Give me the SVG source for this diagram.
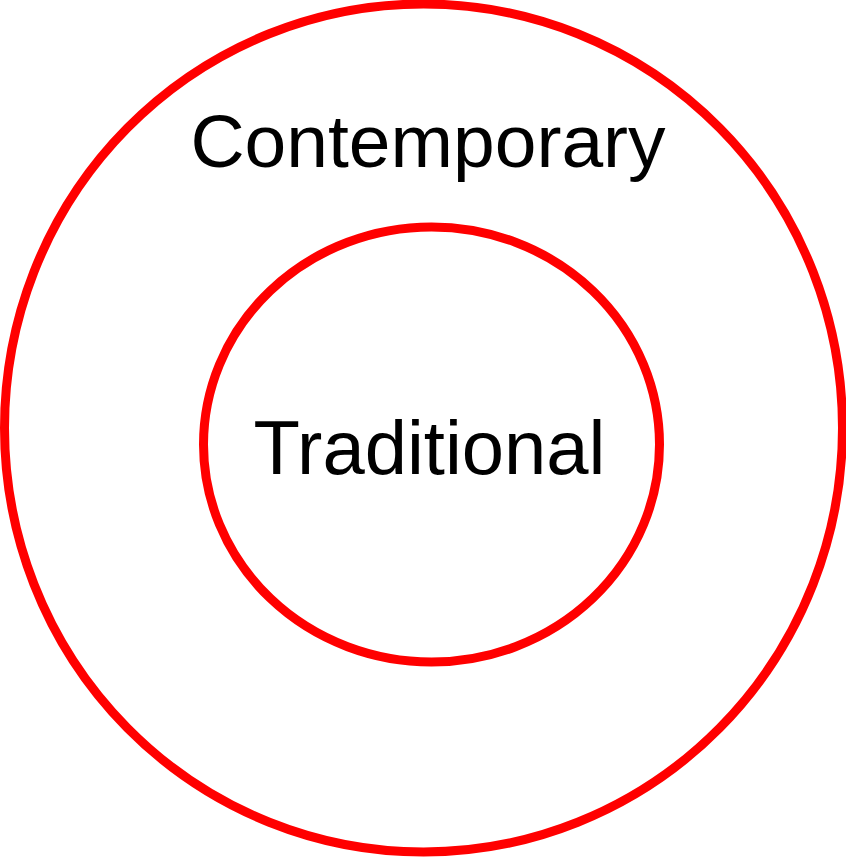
<svg xmlns="http://www.w3.org/2000/svg" width="846" height="857" viewBox="0 0 846 857">
<style>
.ring{fill:none;stroke:#ff0000;stroke-width:9}
.lbl{font-family:"Liberation Sans",Arial,sans-serif;font-size:75px;fill:#000;text-anchor:middle}
</style>
<rect width="846" height="857" fill="#fff"/>
<g id="contemporary">
<ellipse class="ring" cx="423.5" cy="428" rx="419" ry="424"/>
<text class="lbl" x="428" y="167">Contemporary</text>
</g>
<g id="traditional">
<ellipse class="ring" cx="431.5" cy="444.5" rx="228" ry="217.5"/>
<text class="lbl" x="429.5" y="474" style="font-size:76px">Traditional</text>
</g>
<g id="connectors"/>
</svg>
